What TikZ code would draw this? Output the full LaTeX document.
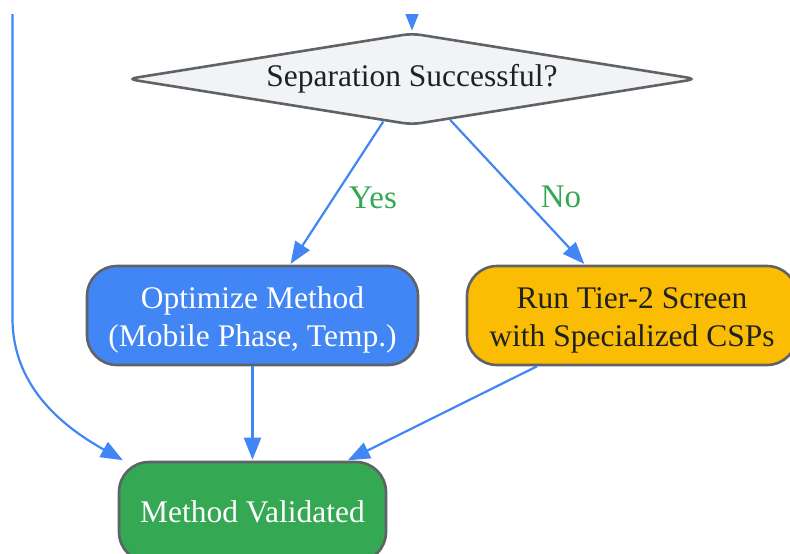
\documentclass[tikz,border=0pt]{standalone}
\usepackage{fontspec}
\setmainfont{Liberation Serif}
\usetikzlibrary{shapes.geometric,arrows.meta,calc}
\definecolor{gblue}{HTML}{4285F4}
\definecolor{gyellow}{HTML}{FBBC04}
\definecolor{ggreen}{HTML}{34A853}
\definecolor{gstroke}{HTML}{5F6368}
\definecolor{gfill}{HTML}{F1F3F4}
\definecolor{gtext}{HTML}{202124}
\newcommand{\twolines}[2]{\raisebox{-4pt}[\height][\depth]{\begin{tabular}{@{}c@{}}#1\\#2\end{tabular}}}
\tikzset{
  box/.style={draw=gstroke, line width=2.6pt, rounded corners=30pt, align=center, inner sep=0pt,
    font=\fontsize{31.5}{38}\selectfont},
  decision/.style={draw=gstroke, fill=gfill, line width=2.6pt, diamond, aspect=6.24, inner sep=0pt,
    minimum width=570pt, minimum height=92pt, rounded corners=9pt, text=gtext,
    font=\fontsize{31.5}{38}\selectfont},
  conn/.style={draw=gblue, line width=2.2pt, shorten >=1pt, -{Triangle[length=22pt,width=17pt]}},
  lbl/.style={text=ggreen, font=\fontsize{33}{38}\selectfont, inner sep=0pt, anchor=west}
}
\begin{document}
\begin{tikzpicture}[x=1pt,y=-1pt]
\useasboundingbox (0,0) rectangle (790,554);
\begin{scope}
\clip (0,14) rectangle (790,554);
\node[decision] (dia) at (412,79) {Separation Successful?};
\node[box, fill=gblue, text=white, minimum width=331pt, minimum height=99pt] (opt) at (252.5,315.5)
  {\twolines{Optimize Method}{(Mobile Phase, Temp.)}};
\node[box, fill=gyellow, text=gtext, minimum width=330pt, minimum height=99pt] (run) at (632,315.5)
  {\twolines{Run Tier-2 Screen}{with Specialized CSPs}};
\node[box, fill=ggreen, text=white, minimum width=267pt, minimum height=100pt] (val) at (252.5,512)
  {Method Validated};
\coordinate (topin) at (412,0);
\coordinate (leftin) at (12.5,0);
\draw[conn] (topin) -- (dia.north);
\draw[conn] (dia.236) -- node[lbl, pos=0.53, xshift=14pt] {Yes} ($(opt.north)+(37.5,0)$);
\draw[conn] (dia.313) -- node[lbl, pos=0.53, xshift=18pt] {No} ($(run.north)+(-47,0)$);
\draw[conn] (opt.south) -- (val.north);
\draw[conn] ($(run.south)+(-95,0)$) -- ($(val.north)+(94.5,0)$);
\draw[conn] (leftin) -- (12.5,318) .. controls (12.5,385) and (60,425) .. ($(val.north west)+(6,0)$);
\end{scope}
\end{tikzpicture}
\end{document}
